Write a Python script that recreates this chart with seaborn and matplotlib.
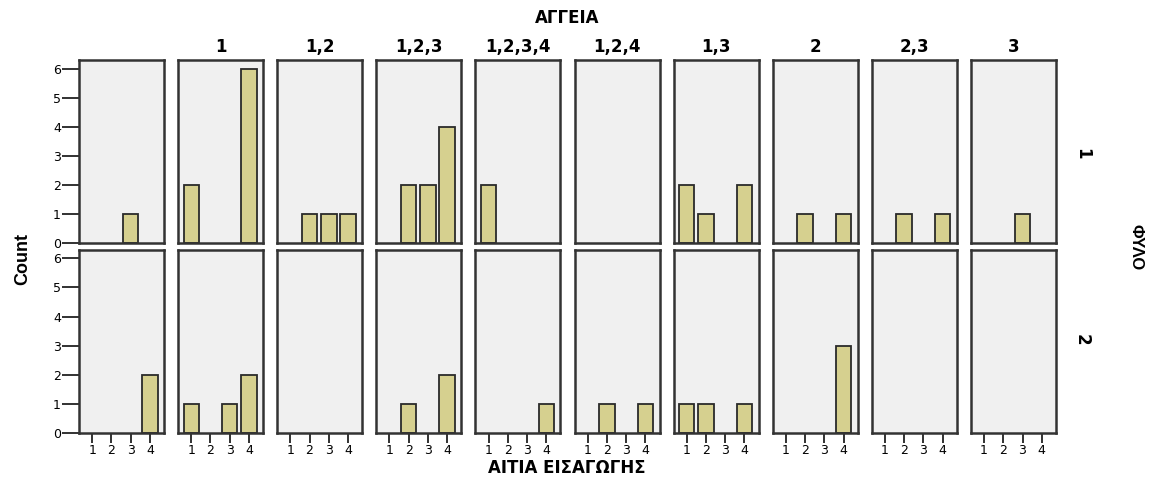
import matplotlib
matplotlib.use("Agg")
import matplotlib.pyplot as plt
import seaborn as sns
import pandas as pd

# ΑΓΓΕΙΑ groups (columns) and ΑΙΤΙΑ ΕΙΣΑΓΩΓΗΣ categories (x)
groups = ["", "1", "1,2", "1,2,3", "1,2,3,4", "1,2,4", "1,3", "2", "2,3", "3"]
causes = [1, 2, 3, 4]

# counts per group for ΦΥΛΟ = 1 and ΦΥΛΟ = 2, in the order of causes
fylo1_counts = [
    [0, 0, 1, 0],
    [2, 0, 0, 6],
    [0, 1, 1, 1],
    [0, 2, 2, 4],
    [2, 0, 0, 0],
    [0, 0, 0, 0],
    [2, 1, 0, 2],
    [0, 1, 0, 1],
    [0, 1, 0, 1],
    [0, 0, 1, 0],
]
fylo2_counts = [
    [0, 0, 0, 2],
    [1, 0, 1, 2],
    [0, 0, 0, 0],
    [0, 1, 0, 2],
    [0, 0, 0, 1],
    [0, 1, 0, 1],
    [1, 1, 0, 1],
    [0, 0, 0, 3],
    [0, 0, 0, 0],
    [0, 0, 0, 0],
]
sex_levels = ["1", "2"]

rows = []
for sex, table in zip(sex_levels, [fylo1_counts, fylo2_counts]):
    for g, counts in zip(groups, table):
        for c, n in zip(causes, counts):
            rows.append({"ΦΥΛΟ": sex, "ΑΓΓΕΙΑ": g, "ΑΙΤΙΑ": c, "Count": n})
df = pd.DataFrame(rows)

sns.set_style("white")
plt.rcParams["font.family"] = ["DejaVu Sans"]
plt.rcParams["text.color"] = "black"
plt.rcParams["xtick.color"] = "black"
plt.rcParams["ytick.color"] = "black"

bar_color = "#d6d08f"
panel_bg = "#f0f0f0"
edge = "#333333"

fig, axes = plt.subplots(2, len(groups), figsize=(11.57, 4.79), dpi=100,
                         sharey=True, sharex=True)
fig.subplots_adjust(left=0.0683, right=0.9127, top=0.8747, bottom=0.096,
                    wspace=0.165, hspace=0.033)

for r, sex in enumerate(sex_levels):
    for c, g in enumerate(groups):
        ax = axes[r, c]
        sub = df[(df["ΦΥΛΟ"] == sex) & (df["ΑΓΓΕΙΑ"] == g)]
        sns.barplot(data=sub, x="ΑΙΤΙΑ", y="Count", order=causes, color=bar_color,
                    width=0.8, edgecolor="#2a2a2a", linewidth=1.3, saturation=1,
                    errorbar=None, ax=ax)
        # empty categories should leave no outline on the baseline
        for p in ax.patches:
            if p.get_height() == 0:
                p.set_linewidth(0)
        ax.set_facecolor(panel_bg)
        for s in ax.spines.values():
            s.set_visible(True)
            s.set_color(edge)
            s.set_linewidth(1.8)
        ax.set_xlim(-0.68, 3.74)
        ax.set_ylim(0, 6.3)
        ax.set_xlabel("")
        ax.set_ylabel("")
        ax.set_yticks(range(7))
        ax.tick_params(axis="y", direction="out", length=12, width=1.3,
                       color="#222222", labelsize=9, pad=1)
        ax.tick_params(axis="x", direction="out", length=7, width=1.3,
                       color="#222222", labelsize=9, pad=1)
        if c == 0:
            ax.tick_params(axis="y", left=True, labelleft=True)
        else:
            ax.tick_params(axis="y", left=False, labelleft=False)
        if r == 1:
            ax.tick_params(axis="x", bottom=True, labelbottom=True)
            ax.set_xticks(range(4))
            ax.set_xticklabels([str(x) for x in causes])
        else:
            ax.tick_params(axis="x", bottom=False, labelbottom=False)
        if r == 0:
            ax.set_title(g, fontsize=12, fontweight="bold", pad=6)

fig.text(0.49, 0.962, "ΑΓΓΕΙΑ", ha="center", va="center", fontsize=12,
         fontweight="bold")
fig.text(0.49, 0.022, "ΑΙΤΙΑ ΕΙΣΑΓΩΓΗΣ", ha="center", va="center", fontsize=12,
         fontweight="bold")
fig.text(0.020, 0.46, "Count", ha="center", va="center", rotation=90,
         fontsize=13, fontweight="bold",
         family=["Liberation Sans Narrow", "Liberation Sans", "DejaVu Sans"])
fig.text(0.982, 0.484, "ΦΥΛΟ", ha="center", va="center", rotation=270,
         fontsize=12, fontweight="bold",
         family=["Liberation Sans", "DejaVu Sans"])
fig.text(0.935, 0.68, "1", ha="center", va="center", rotation=270,
         fontsize=12, fontweight="bold")
fig.text(0.935, 0.29, "2", ha="center", va="center", rotation=270,
         fontsize=12, fontweight="bold")

fig.savefig("out.png", dpi=100)
